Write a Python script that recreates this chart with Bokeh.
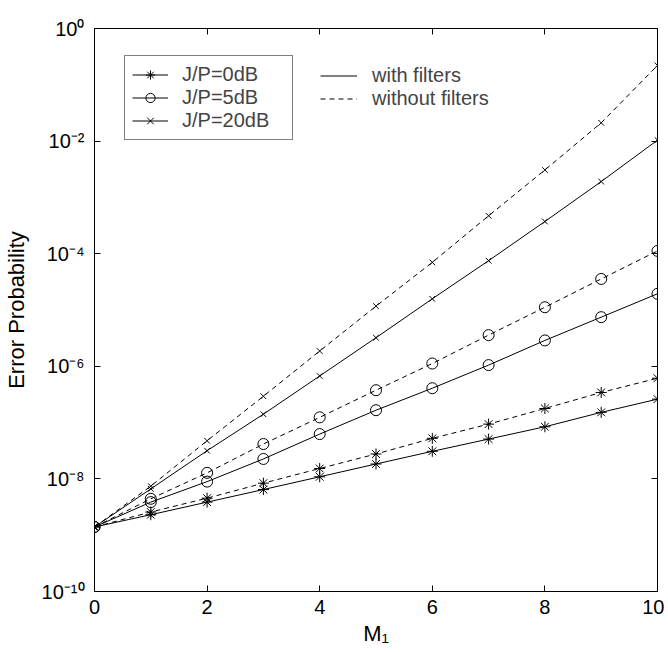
from bokeh.plotting import figure
from bokeh.models import (FixedTicker, CustomJSTickFormatter, LinearAxis, LogAxis,
                          Legend, LegendItem, Range1d)
from bokeh.embed import file_html
from bokeh.resources import INLINE

# ---- data ----
M1 = [0, 1, 2, 3, 4, 5, 6, 7, 8, 9, 10]

jp0_with    = [1.40e-9, 2.31e-9, 3.87e-9, 6.47e-9, 1.09e-8, 1.84e-8, 3.09e-8, 5.10e-8, 8.43e-8, 1.52e-7, 2.61e-7]
jp0_without = [1.40e-9, 2.58e-9, 4.55e-9, 8.40e-9, 1.53e-8, 2.77e-8, 5.25e-8, 9.39e-8, 1.78e-7, 3.43e-7, 6.14e-7]
jp5_with    = [1.40e-9, 3.87e-9, 8.95e-9, 2.26e-8, 6.25e-8, 1.66e-7, 4.08e-7, 1.05e-6, 2.88e-6, 7.46e-6, 1.94e-5]
jp5_without = [1.40e-9, 4.43e-9, 1.28e-8, 4.16e-8, 1.24e-7, 3.76e-7, 1.12e-6, 3.58e-6, 1.12e-5, 3.56e-5, 1.12e-4]
jp20_with   = [1.40e-9, 6.65e-9, 3.17e-8, 1.41e-7, 6.73e-7, 3.22e-6, 1.58e-5, 7.52e-5, 3.73e-4, 1.91e-3, 1.04e-2]
jp20_without= [1.40e-9, 7.43e-9, 4.76e-8, 2.94e-7, 1.87e-6, 1.17e-5, 7.02e-5, 4.71e-4, 3.07e-3, 2.11e-2, 2.21e-1]

series_labels = ["J/P=0dB", "J/P=5dB", "J/P=20dB"]
style_labels = ["with filters", "without filters"]
x_ticks = [0, 2, 4, 6, 8, 10]
y_ticks = [1e-10, 1e-8, 1e-6, 1e-4, 1e-2, 1]

FONT = "Liberation Sans"
FS = "20px"
FS_LABEL = "22px"

W, H = 664, 648
L, T, R, B = 92, 28, 657, 593   # frame edges in page pixels
p = figure(width=W, height=H, y_axis_type="log", output_backend="svg",
           toolbar_location=None, x_range=Range1d(0, 10), y_range=Range1d(1e-10, 1),
           min_border_left=L, min_border_right=W - R, min_border_top=T, min_border_bottom=H - B)
p.xgrid.visible = False
p.ygrid.visible = False
p.outline_line_color = "black"
p.outline_line_width = 1
p.background_fill_color = "white"
p.border_fill_color = "white"

fmt = CustomJSTickFormatter(code="""
const sup = {'0':'\u2070','1':'\u00b9','2':'\u00b2','3':'\u00b3','4':'\u2074','5':'\u2075','6':'\u2076','7':'\u2077','8':'\u2078','9':'\u2079','-':'\u207b'};
const e = Math.round(Math.log10(tick));
return '10' + String(e).split('').map(c => sup[c]).join('');
""")

def style_axis(ax, labels=True):
    ax.major_tick_in = 6
    ax.major_tick_out = 0
    ax.minor_tick_in = 0
    ax.minor_tick_out = 0
    ax.axis_line_color = "black"
    ax.major_tick_line_color = "black"
    ax.major_label_text_font = FONT
    ax.major_label_text_font_size = FS
    ax.major_label_text_color = "black"
    ax.axis_label_text_font = FONT
    ax.axis_label_text_font_size = FS_LABEL
    ax.axis_label_text_font_style = "normal"
    ax.axis_label_text_color = "black"
    if not labels:
        ax.major_label_text_alpha = 0
        ax.major_label_text_font_size = "1px"

xa = p.xaxis[0]
xa.ticker = FixedTicker(ticks=x_ticks)
xa.axis_label = "M\u2081"
xa.major_label_standoff = 8
xa.axis_label_standoff = 4
style_axis(xa)

ya = p.yaxis[0]
ya.ticker = FixedTicker(ticks=y_ticks)
ya.formatter = fmt
ya.axis_label = "Error Probability"
ya.major_label_standoff = 10
ya.axis_label_standoff = 10
style_axis(ya)

top = LinearAxis(ticker=FixedTicker(ticks=x_ticks))
style_axis(top, labels=False)
p.add_layout(top, "above")
right = LogAxis(ticker=FixedTicker(ticks=y_ticks), formatter=fmt)
style_axis(right, labels=False)
p.add_layout(right, "right")

markers = ["asterisk", "circle", "x"]
msizes = [11, 11, 8]
data_with = [jp0_with, jp5_with, jp20_with]
data_without = [jp0_without, jp5_without, jp20_without]

items1 = []
solid_line = dashed_line = None
for i in range(3):
    lw = p.line(M1, data_with[i], line_color="black", line_width=1)
    ld = p.line(M1, data_without[i], line_color="black", line_width=1, line_dash="5 4")
    sw = p.scatter(M1, data_with[i], marker=markers[i], size=msizes[i],
                   line_color="black", fill_color=None, line_width=1)
    p.scatter(M1, data_without[i], marker=markers[i], size=msizes[i],
              line_color="black", fill_color=None, line_width=1)
    items1.append(LegendItem(label=series_labels[i], renderers=[lw, sw]))
    if i == 0:
        solid_line, dashed_line = lw, ld

FH = B - T          # frame height
PAD = 7
ROW = 23
leg1_h = 3 * ROW + 2 * PAD
leg1 = Legend(items=items1, location=(122 - L, FH - (59 - T) - leg1_h), orientation="vertical",
              border_line_color="black", border_line_width=1,
              background_fill_color="white", background_fill_alpha=1,
              label_text_font=FONT, label_text_font_size=FS,
              glyph_width=36, glyph_height=ROW, label_standoff=14, spacing=0,
              padding=PAD, margin=0, label_height=ROW, label_width=103)
leg2_h = 2 * ROW + 2 * PAD
leg2 = Legend(items=[LegendItem(label=style_labels[0], renderers=[solid_line]),
                     LegendItem(label=style_labels[1], renderers=[dashed_line])],
              location=(318 - L - PAD, FH - (59 - T) - leg2_h), orientation="vertical",
              border_line_alpha=0, background_fill_alpha=0,
              label_text_font=FONT, label_text_font_size=FS,
              glyph_width=37, glyph_height=ROW, label_standoff=15, spacing=0,
              padding=PAD, margin=0, label_height=ROW)
p.add_layout(leg1)
p.add_layout(leg2)

open("out.html", "w").write(file_html(p, INLINE))
